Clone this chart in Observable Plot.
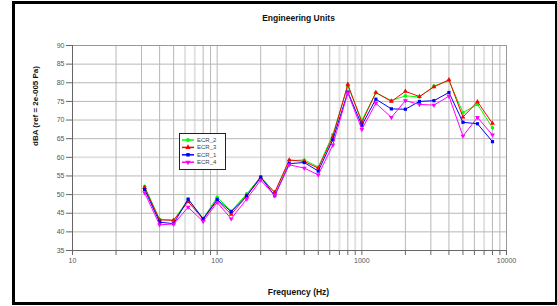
<!DOCTYPE html>
<html>
<head>
<meta charset="utf-8">
<script src="https://cdn.jsdelivr.net/npm/d3@7"></script>
<script src="https://cdn.jsdelivr.net/npm/@observablehq/plot@0.6"></script>
<style>
  body { margin: 0; background: #fff; font-family: "Liberation Sans", Arial, sans-serif; }
  #wrap { position: relative; width: 557px; height: 306px; overflow: hidden; }
  #border { position: absolute; left: 12px; top: 1px; width: 546px; height: 304px; box-sizing: border-box; border: 3px solid #000; pointer-events: none; }
  #legend { position: absolute; left: 179px; top: 133px; width: 47px; height: 37px; box-sizing: border-box; border: 1.5px solid #222; background: #fff; }
  #legend svg { display: block; }
</style>
</head>
<body>
<div id="wrap"><div id="chart"></div><div id="legend"></div><div id="border"></div></div>
<script>
const title = "Engineering Units";
const xLabel = "Frequency (Hz)";
const yLabel = "dBA (ref = 2e-005 Pa)";
const freqs = [31.5, 40, 50, 63, 80, 100, 125, 160, 200, 250, 315, 400, 500, 630, 800, 1000, 1250, 1600, 2000, 2500, 3150, 4000, 5000, 6300, 8000];
const ecr2 = [52.2, 43.4, 43.1, 48.7, 43.6, 49.3, 45.6, 50.2, 54.8, 50.5, 59.1, 59.3, 57.4, 66.1, 79.1, 69.9, 77.3, 75.2, 76.5, 76.2, 79.1, 80.6, 72.0, 74.2, 67.9];
const ecr3 = [51.9, 43.2, 43.1, 48.1, 43.4, 48.4, 44.7, 49.6, 54.5, 50.6, 59.3, 58.9, 57.1, 65.5, 79.6, 69.4, 77.4, 75.0, 77.7, 76.3, 78.9, 80.8, 70.8, 74.9, 69.1];
const ecr1 = [51.4, 42.6, 42.2, 48.8, 43.5, 48.7, 45.4, 49.7, 54.7, 49.7, 58.3, 58.6, 56.3, 64.7, 77.5, 68.6, 75.6, 73.0, 72.9, 75.0, 75.2, 77.4, 69.4, 69.0, 64.2];
const ecr4 = [50.5, 41.9, 42.1, 46.6, 42.8, 47.9, 43.5, 48.8, 53.9, 49.7, 58.0, 57.1, 55.3, 63.3, 77.3, 67.5, 74.5, 70.7, 75.2, 74.2, 74.0, 76.4, 65.7, 70.7, 66.0];
const seriesNames = ["ECR_2", "ECR_3", "ECR_1", "ECR_4"];
const seriesValues = [ecr2, ecr3, ecr1, ecr4];
const seriesColors = ["#00ff00", "#ff0000", "#0000ff", "#ff00ff"];
const seriesSymbols = ["circle", "triangle", "square", "triangle"];
const seriesRotate = [0, 0, 0, 180];
const yTicks = [35, 40, 45, 50, 55, 60, 65, 70, 75, 80, 85, 90];
const xMajor = [10, 100, 1000, 10000];
const xTicks = [];
for (const d of [10, 100, 1000]) for (let k = 1; k < 10; k++) xTicks.push(d * k);
xTicks.push(10000);
const xLight = [60, 70, 700, 900, 7000];

const rows = [];
seriesNames.forEach((name, i) => {
  freqs.forEach((f, j) => rows.push({series: name, f, v: seriesValues[i][j], idx: i}));
});

const marks = [
  Plot.gridX(xLight, {stroke: "#e2e2e2", strokeOpacity: 1, strokeWidth: 2}),
  Plot.gridY([60], {stroke: "#e2e2e2", strokeOpacity: 1, strokeWidth: 2}),
  Plot.gridY(yTicks.filter(d => d !== 60), {stroke: "#b8b8b8", strokeOpacity: 1}),
  Plot.gridX(xTicks.filter(d => !xLight.includes(d)), {stroke: "#b8b8b8", strokeOpacity: 1}),
  Plot.frame({stroke: "#999"}),
  Plot.ruleX([10], {stroke: "#666"}),
  Plot.ruleY([35], {stroke: "#666"}),
  Plot.axisY(yTicks, {tickSize: 6, tickPadding: 2, stroke: "#666", color: "#555", fontSize: 7, label: null}),
  Plot.axisX(xTicks, {tickSize: 5, tickPadding: 3, stroke: "#666", color: "#555", fontSize: 7, label: null,
    tickFormat: d => xMajor.includes(d) ? String(d) : ""})
];
seriesNames.forEach((name, i) => {
  const data = rows.filter(r => r.idx === i);
  marks.push(Plot.line(data, {x: "f", y: "v", stroke: seriesColors[i], strokeWidth: 1}));
  marks.push(Plot.dot(data, {x: "f", y: "v", fill: seriesColors[i], stroke: "none", symbol: seriesSymbols[i], r: 1.8, rotate: seriesRotate[i]}));
});
marks.push(Plot.text([title], {frameAnchor: "top", dx: 9, dy: -31, fontWeight: "bold", fontSize: 8.5, fill: "#111"}));
marks.push(Plot.text([xLabel], {frameAnchor: "bottom", dx: 9, dy: 44, fontWeight: "bold", fontSize: 8.5, fill: "#111"}));
marks.push(Plot.text([yLabel], {frameAnchor: "left", dx: -37, dy: -2, rotate: -90, fontWeight: "bold", fontSize: 8, fill: "#111"}));

const chart = Plot.plot({
  width: 557,
  height: 306,
  marginLeft: 72,
  marginRight: 51,
  marginTop: 45,
  marginBottom: 56,
  style: {fontFamily: "'Liberation Sans', Arial, sans-serif", background: "#fff"},
  x: {type: "log", domain: [10, 10000]},
  y: {domain: [35, 90]},
  marks
});
document.getElementById("chart").append(chart);

// legend
const lg = d3.select("#legend").append("svg").attr("width", 44).attr("height", 34);
const sym = {circle: d3.symbolCircle, triangle: d3.symbolTriangle, square: d3.symbolSquare};
seriesNames.forEach((name, i) => {
  const y = 6 + i * 7.4;
  lg.append("line").attr("x1", 2).attr("x2", 14).attr("y1", y).attr("y2", y).attr("stroke", seriesColors[i]).attr("stroke-width", 1.5);
  lg.append("path").attr("d", d3.symbol(sym[seriesSymbols[i]], 12)())
    .attr("transform", `translate(8,${y}) rotate(${seriesRotate[i]})`).attr("fill", seriesColors[i]);
  lg.append("text").attr("x", 17).attr("y", y + 2).attr("font-size", 6).attr("fill", "#444")
    .attr("font-family", "'Liberation Sans', Arial, sans-serif").text(name);
});
</script>
</body>
</html>
